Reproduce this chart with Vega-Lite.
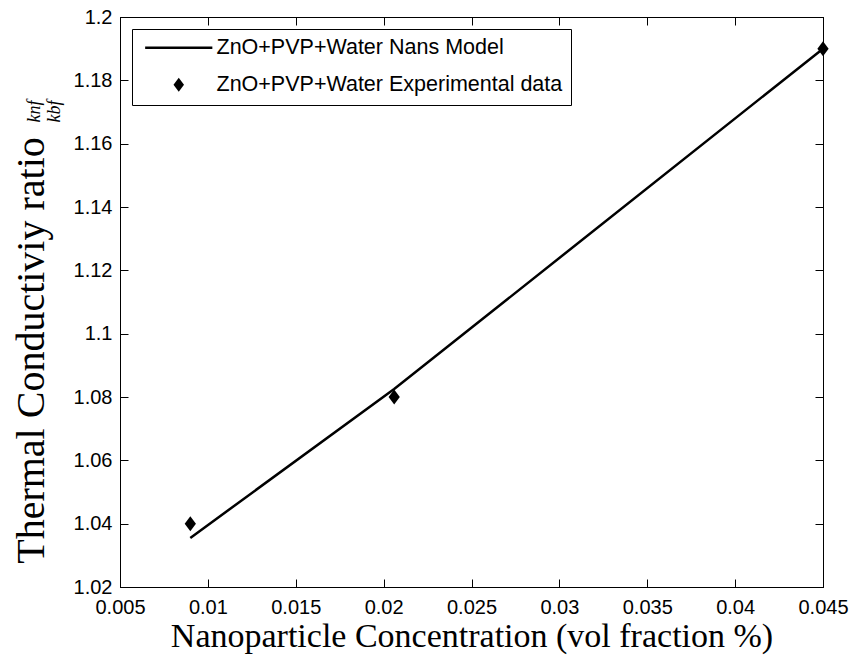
{
  "$schema": "https://vega.github.io/schema/vega-lite/v6.json",
  "autosize": "none",
  "padding": {"left": 120, "top": 17, "right": 31, "bottom": 78},
  "width": 703,
  "height": 570,
  "background": "white",
  "config": {
    "view": {"stroke": "black", "strokeWidth": 1},
    "axis": {
      "domainColor": "black",
      "tickColor": "black",
      "labelColor": "black",
      "titleColor": "black",
      "grid": false,
      "labelFlush": false,
      "labelFont": "Liberation Sans",
      "labelFontSize": 20,
      "titleFont": "Liberation Serif",
      "titleFontWeight": "normal",
      "titleFontSize": 34
    }
  },
  "datasets": {
    "model": [
      {"phi": 0.009, "k": 1.0355, "series": "ZnO+PVP+Water Nans Model"},
      {"phi": 0.0206, "k": 1.0825, "series": "ZnO+PVP+Water Nans Model"},
      {"phi": 0.045, "k": 1.19, "series": "ZnO+PVP+Water Nans Model"}
    ],
    "exp": [
      {"phi": 0.009, "k": 1.04, "series": "ZnO+PVP+Water Experimental data"},
      {"phi": 0.0206, "k": 1.08, "series": "ZnO+PVP+Water Experimental data"},
      {"phi": 0.045, "k": 1.19, "series": "ZnO+PVP+Water Experimental data"}
    ]
  },
  "layer": [
    {
      "data": {"name": "model"},
      "mark": {"type": "line", "color": "black", "strokeWidth": 2.5},
      "encoding": {
        "x": {
          "field": "phi", "type": "quantitative",
          "scale": {"domain": [0.005, 0.045], "nice": false, "zero": false},
          "axis": {
            "orient": "bottom",
            "title": "Nanoparticle Concentration (vol fraction %)",
            "values": [0.005, 0.01, 0.015, 0.02, 0.025, 0.03, 0.035, 0.04, 0.045],
            "format": "~g",
            "tickSize": -8,
            "labelPadding": 18,
            "titlePadding": 2
          }
        },
        "y": {
          "field": "k", "type": "quantitative",
          "scale": {"domain": [1.02, 1.2], "nice": false, "zero": false},
          "axis": {
            "orient": "left",
            "title": "Thermal Conductiviy ratio",
            "titleFontSize": 40,
            "titleY": 333,
            "values": [1.02, 1.04, 1.06, 1.08, 1.1, 1.12, 1.14, 1.16, 1.18, 1.2],
            "format": "~g",
            "tickSize": -8,
            "labelPadding": 16,
            "titlePadding": 22
          }
        }
      }
    },
    {
      "data": {"name": "exp"},
      "mark": {"type": "point", "filled": true, "color": "black", "opacity": 1, "size": 225},
      "encoding": {
        "x": {
          "field": "phi", "type": "quantitative",
          "axis": {"orient": "top", "labels": false,
                   "title": ["knf", "kbf"],
                   "titleFont": "Liberation Serif",
                   "titleFontStyle": "italic",
                   "titleFontSize": 18,
                   "titleLineHeight": 20,
                   "titleAngle": -90,
                   "titleAlign": "center",
                   "titleBaseline": "middle",
                   "titleX": -86,
                   "titleY": 94,
                   "values": [0.005, 0.01, 0.015, 0.02, 0.025, 0.03, 0.035, 0.04, 0.045],
                   "tickSize": -8}
        },
        "y": {
          "field": "k", "type": "quantitative",
          "axis": {"orient": "right", "labels": false, "title": null,
                   "values": [1.02, 1.04, 1.06, 1.08, 1.1, 1.12, 1.14, 1.16, 1.18, 1.2],
                   "tickSize": -8}
        },
        "shape": {
          "field": "series", "type": "nominal",
          "scale": {
            "domain": ["ZnO+PVP+Water Nans Model", "ZnO+PVP+Water Experimental data"],
            "range": ["M-4.8,-0.18L4.8,-0.18L4.8,0.18L-4.8,0.18Z", "M-0.75,0L0,-1L0.75,0L0,1Z"]
          },
          "legend": {
            "title": null,
            "orient": "none",
            "legendX": 12,
            "legendY": 12,
            "strokeColor": "black",
            "fillColor": "white",
            "padding": 8,
            "labelFont": "Liberation Sans",
            "labelFontSize": 21.5,
            "labelColor": "black",
            "symbolSize": 196,
            "symbolStrokeColor": "black",
            "symbolFillColor": "black",
            "symbolStrokeWidth": 2.5,
            "symbolOffset": 28,
            "labelOffset": 27,
            "rowPadding": 13,
            "labelLimit": 600,
            "encode": {
              "symbols": {
                "update": {
                  "stroke": {"value": "black"},
                  "strokeWidth": {"value": 2.5},
                  "fill": {"value": "black"},
                  "opacity": {"value": 1}
                }
              }
            }
          }
        }
      }
    }
  ],
  "resolve": {"axis": {"x": "independent", "y": "independent"}}
}
